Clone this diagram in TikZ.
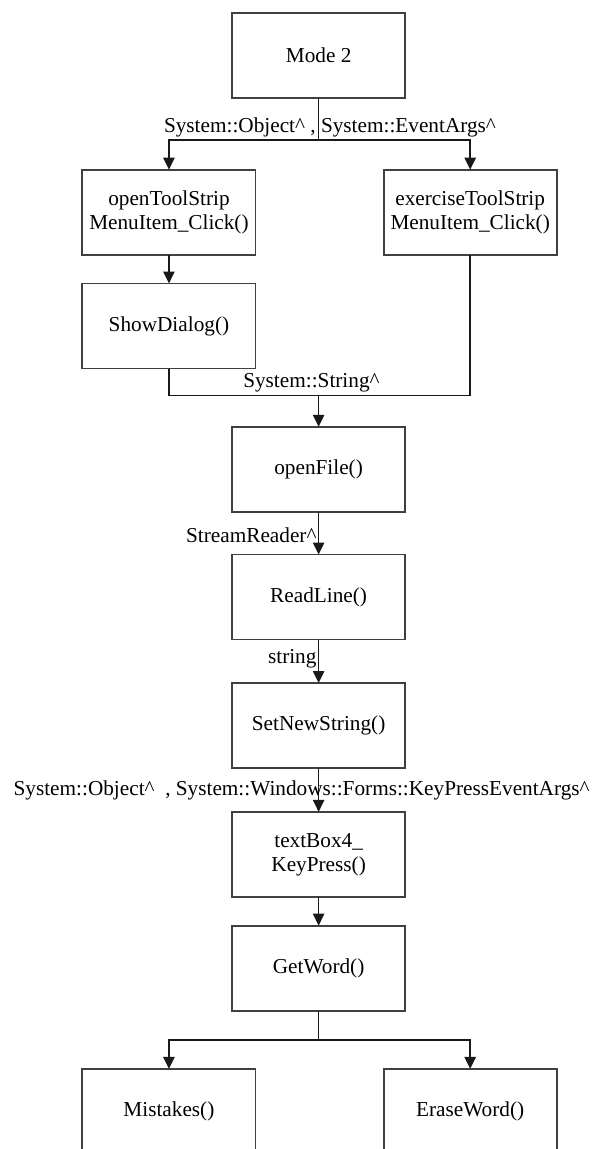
\documentclass[tikz,border=0pt]{standalone}
\usepackage{fontspec}
\setmainfont{Liberation Serif}
\usepackage{tikz}
\usetikzlibrary{arrows.meta, positioning, calc}
\tikzset{
  box/.style={rectangle, draw=black!75, line width=1.4pt, minimum width=4.58cm,
              minimum height=2.25cm, align=center, inner sep=2pt, outer sep=0pt,
              font=\fontsize{16}{18}\selectfont},
  arrow/.style={-{Triangle[length=9pt,width=8.5pt]}, line width=1.2pt, draw=black!90},
  wire/.style={line width=1.2pt, draw=black!90},
  lbl/.style={font=\fontsize{16}{18}\selectfont, inner sep=1pt},
}
\newcommand{\hatsym}{\textasciicircum}

\begin{document}
\begin{tikzpicture}

  \clip (0,0) rectangle (15.82,-30.40);

  %% ---- top: menu handlers ----
  \node[box, anchor=north] (mode) at (8.43,-0.34) {Mode 2};
  \node[box, below=1.9cm of mode, xshift=-3.96cm] (opentool) {openToolStrip\\MenuItem\_Click()};
  \node[box, below=1.9cm of mode, xshift=4.01cm] (exercise) {exerciseToolStrip\\MenuItem\_Click()};
  \node[box, below=0.76cm of opentool] (showdialog) {ShowDialog()};

  \coordinate (split1) at ([yshift=-1.12cm]mode.south);
  \draw[wire] (mode.south) -- (split1);
  \draw[arrow] (split1) -| (opentool.north);
  \draw[arrow] (split1) -| (exercise.north);
  \node[lbl, above=1pt of split1, xshift=0.3cm] (args1) {System::Object\hatsym\ , System::EventArgs\hatsym};
  \draw[arrow] (opentool) -- (showdialog);

  %% ---- file reading ----
  \node[box, below=8.7cm of mode] (openfile) {openFile()};
  \node[box, below=1.13cm of openfile] (readline) {ReadLine()};
  \node[box, below=1.15cm of readline] (setstring) {SetNewString()};

  \coordinate (merge) at ([yshift=-0.71cm]showdialog.south -| mode.south);
  \draw[wire] (showdialog.south) |- (merge);
  \draw[wire] (exercise.south) |- (merge);
  \draw[arrow] (merge) -- (openfile.north);
  \node[lbl, above=1pt of merge, xshift=-0.19cm] (strlbl) {System::String\hatsym};

  \draw[arrow] (openfile) -- node[lbl, left, pos=0.55] {StreamReader\hatsym} (readline);
  \draw[arrow] (readline) -- node[lbl, left, pos=0.45] {string} (setstring);

  %% ---- key press ----
  \node[box, below=1.16cm of setstring] (keypress) {textBox4\_\\KeyPress()};
  \node[box, below=0.76cm of keypress] (getword) {GetWord()};
  \node[box, below=1.54cm of getword, xshift=-3.96cm] (mistakes) {Mistakes()};
  \node[box, below=1.54cm of getword, xshift=4.01cm] (erase) {EraseWord()};

  \draw[arrow] (setstring) -- node[lbl, xshift=-0.45cm] {System::Object\hatsym\ \ , System::Windows::Forms::KeyPressEventArgs\hatsym} (keypress);
  \draw[arrow] (keypress) -- (getword);

  \coordinate (split2) at ([yshift=-0.77cm]getword.south);
  \draw[wire] (getword.south) -- (split2);
  \draw[arrow] (split2) -| (mistakes.north);
  \draw[arrow] (split2) -| (erase.north);

\end{tikzpicture}
\end{document}
